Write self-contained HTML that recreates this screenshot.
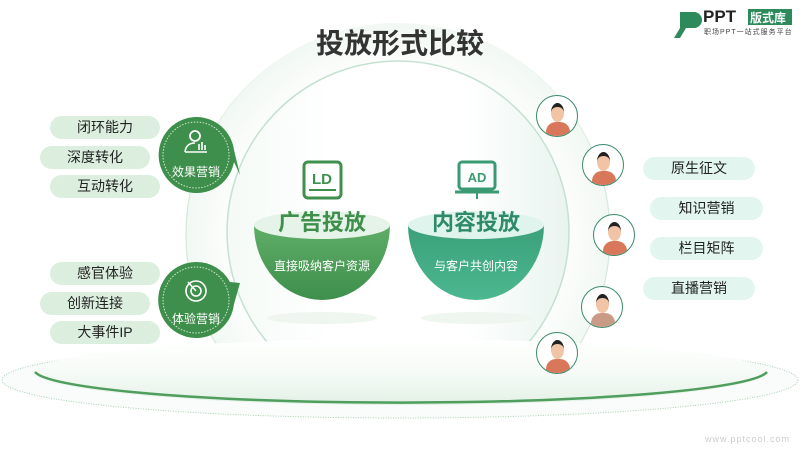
<!DOCTYPE html><html><head><meta charset="utf-8"><style>
body{margin:0;width:800px;height:450px;background:#fff;overflow:hidden;position:relative;font-family:"Liberation Sans","Noto Sans CJK SC",sans-serif}
.a{position:absolute}
.pill{position:absolute;height:23px;border-radius:12px;background:#dcefdf;font-size:14px;color:#222;text-align:center;line-height:23px}
.rp{background:#e2f5ee}
.av{position:absolute;width:40px;height:40px;border-radius:50%;border:1.5px solid #3a8a6a;background:#fff;overflow:hidden}
.av i{position:absolute;left:9px;bottom:-6px;width:24px;height:20px;border-radius:10px 10px 0 0;background:#d9775a}
.av b{position:absolute;left:14px;top:7px;width:13px;height:15px;border-radius:50%;background:#f0c4a4;border-top:4px solid #222}
</style></head><body>
<svg class="a" style="left:0;top:0" width="800" height="450">
<defs>
<radialGradient id="rg" cx="0.5" cy="0.5" r="0.5"><stop offset="0.75" stop-color="#fff"/><stop offset="1" stop-color="#f1f8f3"/></radialGradient>
<linearGradient id="pl" x1="0" y1="0" x2="0" y2="1"><stop offset="0" stop-color="#fff"/><stop offset="0.5" stop-color="#f6fbf7"/><stop offset="1" stop-color="#e3f1e6"/></linearGradient>
<linearGradient id="b1" x1="0" y1="0" x2="0" y2="1"><stop offset="0" stop-color="#5fae68"/><stop offset="1" stop-color="#3e8f4c"/></linearGradient>
<linearGradient id="b2" x1="0" y1="0" x2="0" y2="1"><stop offset="0" stop-color="#3aa07a"/><stop offset="1" stop-color="#4cb890"/></linearGradient>
<linearGradient id="ci" x1="0" y1="0" x2="1" y2="0"><stop offset="0" stop-color="#f4faf6"/><stop offset="0.3" stop-color="#fff"/><stop offset="0.7" stop-color="#fff"/><stop offset="1" stop-color="#e8f4ef"/></linearGradient>
<linearGradient id="os" x1="0" y1="0" x2="0" y2="1"><stop offset="0" stop-color="#e2efe6" stop-opacity="0"/><stop offset="0.35" stop-color="#d4e8dc"/><stop offset="1" stop-color="#d4e8dc"/></linearGradient>
<clipPath id="cp"><rect x="0" y="0" width="800" height="372"/></clipPath>
</defs>
<ellipse cx="400" cy="380" rx="398" ry="38" fill="#f9fcfa" stroke="#a8cfb1" stroke-width="1" stroke-dasharray="1 1.5"/>
<g clip-path="url(#cp)">
<circle cx="398" cy="235" r="212" fill="url(#rg)" stroke="url(#os)" stroke-width="1.2"/>
<circle cx="398" cy="232" r="171" fill="url(#ci)" stroke="#c4e1d1" stroke-width="1.5"/>
</g>
<ellipse cx="400" cy="372" rx="366" ry="33" fill="url(#pl)"/>
<path d="M35 372 A367 33 0 0 0 767 372" fill="none" stroke="#4f9e5e" stroke-width="2.5"/>
<ellipse cx="322" cy="225" rx="68" ry="14" fill="#e6f3e8"/>
<path d="M254 225 A68 75 0 0 0 390 225 A68 14 0 0 1 254 225Z" fill="url(#b1)"/>
<ellipse cx="476" cy="225" rx="68" ry="14" fill="#dff4ec"/>
<path d="M408 225 A68 75 0 0 0 544 225 A68 14 0 0 1 408 225Z" fill="url(#b2)"/>
<ellipse cx="322" cy="318" rx="55" ry="6" fill="#eef6ef"/>
<ellipse cx="476" cy="318" rx="55" ry="6" fill="#eef6ef"/>
<rect x="304" y="162" width="37" height="36" rx="4" fill="none" stroke="#3f8f4e" stroke-width="3"/>
<line x1="309" y1="190" x2="336" y2="190" stroke="#3f8f4e" stroke-width="2"/>
<text x="322" y="184" font-size="15" font-weight="bold" fill="#3f8f4e" text-anchor="middle" font-family="Liberation Sans">LD</text>
<rect x="459" y="162" width="36" height="27" rx="3" fill="none" stroke="#3a9a72" stroke-width="3"/>
<line x1="455" y1="192" x2="499" y2="192" stroke="#3a9a72" stroke-width="3"/>
<line x1="477" y1="192" x2="477" y2="199" stroke="#3a9a72" stroke-width="2"/>
<text x="477" y="182" font-size="13" font-weight="bold" fill="#3a9a72" text-anchor="middle" font-family="Liberation Sans">AD</text>
<path d="M196 117 A38 38 0 1 0 234 162 L240 175 L234 150 A38 38 0 0 0 196 117Z" fill="#3f8f4c"/>
<circle cx="196" cy="155" r="33" fill="none" stroke="#cfe8d3" stroke-dasharray="1.5 1.5"/>
<path d="M196 262 A38 38 0 1 0 234 304 L240 283 L230 282 A38 38 0 0 0 196 262Z" fill="#3f8f4c"/>
<circle cx="196" cy="300" r="33" fill="none" stroke="#cfe8d3" stroke-dasharray="1.5 1.5"/>
<circle cx="195" cy="136" r="5" fill="none" stroke="#fff" stroke-width="1.8"/>
<path d="M185 152 Q186 143 195 143 M199 150 v-6 M202 150 v-8 M205 150 v-5 M185 152 h22" stroke="#fff" stroke-width="1.6" fill="none"/>
<circle cx="196" cy="291" r="10" fill="none" stroke="#fff" stroke-width="1.6"/>
<circle cx="196" cy="291" r="5" fill="none" stroke="#fff" stroke-width="1.6"/>
<line x1="196" y1="291" x2="188" y2="282" stroke="#fff" stroke-width="1.6"/>
<path d="M640 12 h14 a8 8 0 0 1 0 16 h-8 l-6 10 h-6 l6-10 v-10z" fill="#2f8a5b" transform="translate(40 0)"/>
<rect x="748" y="9" width="44" height="16" fill="#2f8a5b"/>
</svg>
<div class="a" style="left:0;top:22px;width:800px;text-align:center;font-size:28px;font-weight:bold;color:#333">投放形式比较</div>
<div class="a" style="left:703px;top:7px;font-size:17px;font-weight:bold;color:#222;font-family:'Liberation Sans'">PPT</div>
<div class="a" style="left:750px;top:9px;font-size:12px;font-weight:bold;color:#fff">版式库</div>
<div class="a" style="left:704px;top:27px;font-size:7px;color:#444;letter-spacing:1px">职场PPT一站式服务平台</div>
<div class="a" style="left:254px;top:205px;width:136px;text-align:center;font-size:22px;font-weight:bold;color:#3f8f4c">广告投放</div>
<div class="a" style="left:408px;top:205px;width:136px;text-align:center;font-size:22px;font-weight:bold;color:#2f8a6a">内容投放</div>
<div class="a" style="left:254px;top:257px;width:136px;text-align:center;font-size:12px;color:#fff">直接吸纳客户资源</div>
<div class="a" style="left:408px;top:257px;width:136px;text-align:center;font-size:12px;color:#fff">与客户共创内容</div>
<div class="a" style="left:160px;top:163px;width:72px;text-align:center;font-size:12px;color:#fff">效果营销</div>
<div class="a" style="left:160px;top:310px;width:72px;text-align:center;font-size:12px;color:#fff">体验营销</div>
<div class="pill" style="left:50px;top:116px;width:110px">闭环能力</div>
<div class="pill" style="left:40px;top:146px;width:110px">深度转化</div>
<div class="pill" style="left:50px;top:175px;width:110px">互动转化</div>
<div class="pill" style="left:50px;top:262px;width:110px">感官体验</div>
<div class="pill" style="left:40px;top:292px;width:110px">创新连接</div>
<div class="pill" style="left:50px;top:321px;width:110px">大事件IP</div>
<div class="pill rp" style="left:643px;top:157px;width:112px">原生征文</div>
<div class="pill rp" style="left:650px;top:197px;width:113px">知识营销</div>
<div class="pill rp" style="left:650px;top:237px;width:113px">栏目矩阵</div>
<div class="pill rp" style="left:643px;top:277px;width:112px">直播营销</div>
<div class="av" style="left:536px;top:95px"><i></i><b></b></div>
<div class="av" style="left:582px;top:144px"><i></i><b></b></div>
<div class="av" style="left:593px;top:214px"><i></i><b></b></div>
<div class="av" style="left:581px;top:286px"><i style="background:#c99a85"></i><b></b></div>
<div class="av" style="left:536px;top:332px"><i></i><b></b></div>
<div class="a" style="left:705px;top:434px;font-size:9px;color:#ccc;letter-spacing:1px">www.pptcool.com</div>
</body></html>
